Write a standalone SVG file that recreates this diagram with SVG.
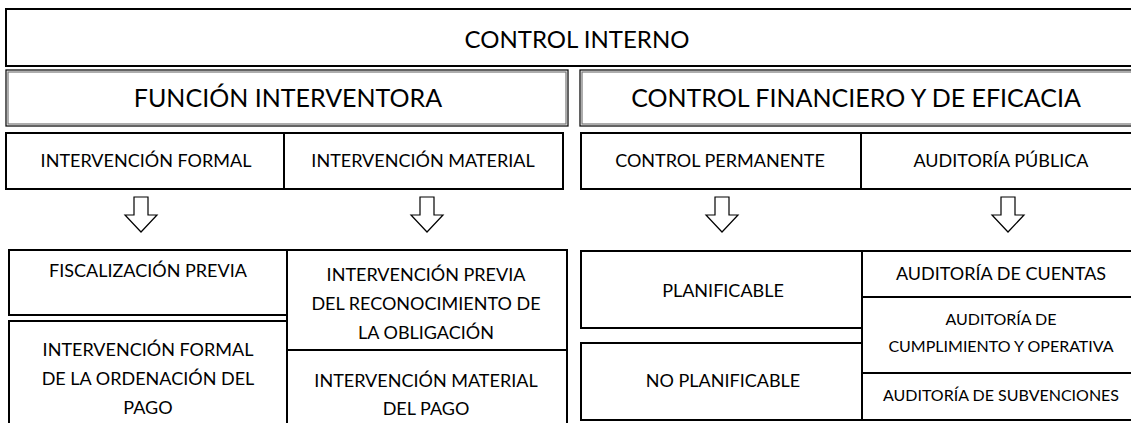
<svg xmlns="http://www.w3.org/2000/svg" width="1131" height="423" viewBox="0 0 1131 423">
<style>
.box{fill:#fff;stroke:#000;stroke-width:2}
.outer{fill:#fff;stroke:#111;stroke-width:1.3}
.inner{fill:none;stroke:#777;stroke-width:1.2}
.arr{fill:#fff;stroke:#000;stroke-width:1.2;stroke-linejoin:miter}
text{font-family:Lato,"Open Sans","Liberation Sans",sans-serif;fill:#000;text-anchor:middle}
.t1{font-size:24px}
.t2{font-size:25px}
.t3{font-size:18px}
.t4{font-size:16px}
</style>
<defs>
<path id="arrow" d="M-7,0 H7 V18 H16 L0,35 L-16,18 H-7 Z"/>
</defs>
<g id="control-interno">
<rect class="box" x="6" y="9" width="1140" height="57"/>
<text class="t1" x="577" y="48">CONTROL INTERNO</text>
</g>
<g id="funcion-interventora">
<rect class="outer" x="6" y="70" width="562" height="56"/>
<rect class="inner" x="8" y="72" width="558" height="52"/>
<text class="t2" x="288" y="107">FUNCIÓN INTERVENTORA</text>
</g>
<g id="control-financiero">
<rect class="outer" x="580" y="70" width="560" height="56"/>
<rect class="inner" x="582" y="72" width="560" height="52"/>
<text class="t2" x="856" y="107">CONTROL FINANCIERO Y DE EFICACIA</text>
</g>
<g id="intervencion-formal">
<rect class="box" x="6" y="133" width="278" height="56"/>
<text class="t3" x="146" y="167">INTERVENCIÓN FORMAL</text>
</g>
<g id="intervencion-material">
<rect class="box" x="284" y="133" width="279" height="56"/>
<text class="t3" x="423" y="167">INTERVENCIÓN MATERIAL</text>
</g>
<g id="control-permanente">
<rect class="box" x="581" y="133" width="280" height="56"/>
<text class="t3" x="720" y="167">CONTROL PERMANENTE</text>
</g>
<g id="auditoria-publica">
<rect class="box" x="861" y="133" width="280" height="56"/>
<text class="t3" x="1001" y="167">AUDITORÍA PÚBLICA</text>
</g>
<g id="connectors">
<use href="#arrow" class="arr" x="141" y="197"/>
<use href="#arrow" class="arr" x="427" y="197"/>
<use href="#arrow" class="arr" x="722" y="197"/>
<use href="#arrow" class="arr" x="1008" y="197"/>
</g>
<g id="fiscalizacion-previa">
<rect class="box" x="9" y="250" width="278" height="65"/>
<text class="t3" x="148" y="277">FISCALIZACIÓN PREVIA</text>
</g>
<g id="intervencion-formal-ordenacion">
<rect class="box" x="9" y="321" width="278" height="120"/>
<text class="t3" x="148" y="356">INTERVENCIÓN FORMAL</text>
<text class="t3" x="148" y="385">DE LA ORDENACIÓN DEL</text>
<text class="t3" x="148" y="414">PAGO</text>
</g>
<g id="intervencion-previa-reconocimiento">
<rect class="box" x="287" y="250" width="280" height="100"/>
<text class="t3" x="426" y="281">INTERVENCIÓN PREVIA</text>
<text class="t3" x="426" y="310">DEL RECONOCIMIENTO DE</text>
<text class="t3" x="426" y="339">LA OBLIGACIÓN</text>
</g>
<g id="intervencion-material-pago">
<rect class="box" x="287" y="350" width="280" height="90"/>
<text class="t3" x="426" y="387">INTERVENCIÓN MATERIAL</text>
<text class="t3" x="426" y="415">DEL PAGO</text>
</g>
<g id="planificable">
<rect class="box" x="581" y="251" width="281" height="77"/>
<text class="t3" x="723" y="297">PLANIFICABLE</text>
</g>
<g id="no-planificable">
<rect class="box" x="581" y="343" width="281" height="77"/>
<text class="t3" x="723" y="387">NO PLANIFICABLE</text>
</g>
<g id="auditoria-cuentas">
<rect class="box" x="862" y="251" width="280" height="46"/>
<text class="t3" x="1001" y="280">AUDITORÍA DE CUENTAS</text>
</g>
<g id="auditoria-cumplimiento">
<rect class="box" x="862" y="297" width="280" height="76"/>
<text class="t4" x="1001" y="325">AUDITORÍA DE</text>
<text class="t4" x="1001" y="352">CUMPLIMIENTO Y OPERATIVA</text>
</g>
<g id="auditoria-subvenciones">
<rect class="box" x="862" y="373" width="280" height="47"/>
<text class="t4" x="1001" y="401">AUDITORÍA DE SUBVENCIONES</text>
</g>
</svg>
